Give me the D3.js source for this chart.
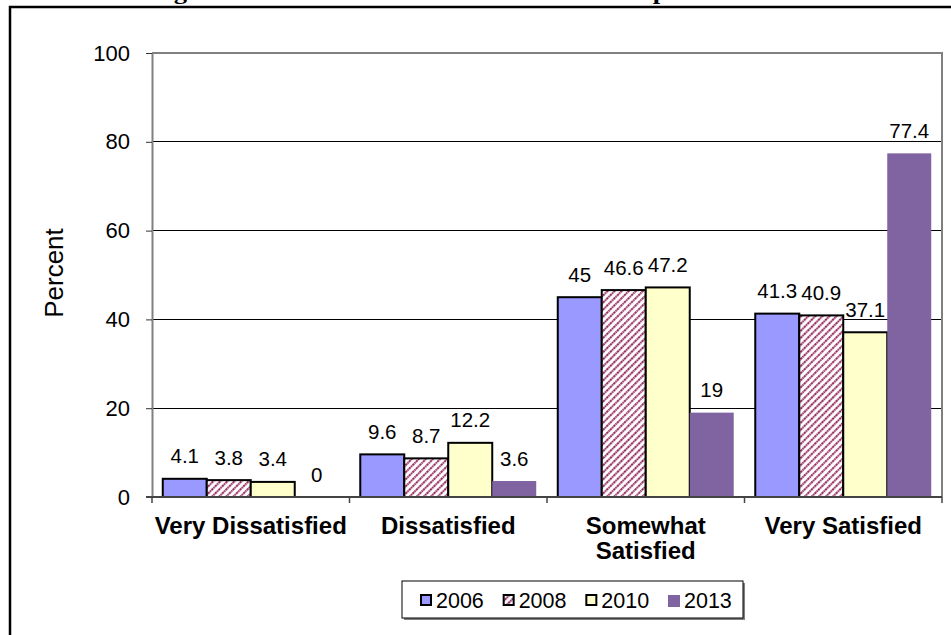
<!DOCTYPE html>
<html>
<head>
<meta charset="utf-8">
<script src="https://cdn.jsdelivr.net/npm/d3@7"></script>
<style>
  html, body { margin: 0; padding: 0; background: #fff; }
  svg { display: block; }
</style>
</head>
<body>
<svg id="chart" width="951" height="635"></svg>
<script>
const titleText = "Figure 3 Satisfaction with Yard Waste Pickup 2006-2013";
const categories = [["Very Dissatisfied"], ["Dissatisfied"], ["Somewhat", "Satisfied"], ["Very Satisfied"]];
const categoryKeys = ["Very Dissatisfied", "Dissatisfied", "Somewhat Satisfied", "Very Satisfied"];
const seriesNames = ["2006", "2008", "2010", "2013"];
const values2006 = [4.1, 9.6, 45, 41.3];
const values2008 = [3.8, 8.7, 46.6, 40.9];
const values2010 = [3.4, 12.2, 47.2, 37.1];
const values2013 = [0, 3.6, 19, 77.4];
const yTicks = [0, 20, 40, 60, 80, 100];
const yAxisTitle = "Percent";

const seriesValues = [values2006, values2008, values2010, values2013];
const fills = ["#9999FF", "url(#hatch)", "#FFFFCC", "#8064A2"];
const strokes = ["#000", "#000", "#000", "none"];
const FONT = "'Liberation Sans', Arial, Helvetica, sans-serif";

const svg = d3.select("#chart");
const defs = svg.append("defs");
const pat = defs.append("pattern").attr("id", "hatch").attr("patternUnits", "userSpaceOnUse")
  .attr("width", 5).attr("height", 5).attr("patternTransform", "rotate(45)");
pat.append("rect").attr("width", 5).attr("height", 5).attr("fill", "#fff");
pat.append("line").attr("x1", 1).attr("y1", 0).attr("x2", 1).attr("y2", 5)
  .attr("stroke", "#993366").attr("stroke-width", 2.2).attr("stroke-dasharray", "2,0.6");

// title (clipped at top edge)
svg.append("text").attr("x", 150).attr("y", -1)
  .attr("textLength", 640).attr("lengthAdjust", "spacingAndGlyphs")
  .style("font-family", "'Liberation Serif', 'Times New Roman', serif")
  .style("font-weight", "bold").style("font-size", "22px").text(titleText);

// outer frame
svg.append("rect").attr("x", 10).attr("y", 7).attr("width", 960).attr("height", 650)
  .attr("fill", "none").attr("stroke", "#000").attr("stroke-width", 2.5);

const plot = { left: 152, right: 942, top: 53, bottom: 497 };
const x0 = d3.scaleBand().domain(categoryKeys).range([plot.left, plot.right]).paddingInner(0.109).paddingOuter(0.0545);
const x1 = d3.scaleBand().domain(seriesNames).range([0, x0.bandwidth()]);
const y = d3.scaleLinear().domain([0, 100]).range([plot.bottom, plot.top]);

// gridlines
svg.append("g").selectAll("line").data(yTicks.filter(t => t > 0 && t < 100)).join("line")
  .attr("x1", plot.left).attr("x2", plot.right)
  .attr("y1", d => y(d)).attr("y2", d => y(d))
  .attr("stroke", "#000").attr("stroke-width", 1).attr("shape-rendering", "crispEdges");

// plot border top/right
svg.append("path")
  .attr("d", `M${plot.left},${y(100)}H${plot.right}V${y(0)}`)
  .attr("fill", "none").attr("stroke", "#808080").attr("stroke-width", 2);

// bars
const groups = svg.append("g").selectAll("g").data(categoryKeys).join("g")
  .attr("transform", d => `translate(${x0(d)},0)`);
groups.each(function(cat, ci) {
  const g = d3.select(this);
  seriesNames.forEach((s, si) => {
    const v = seriesValues[si][ci];
    g.append("rect")
      .attr("x", x1(s)).attr("width", x1.bandwidth())
      .attr("y", y(v)).attr("height", y(0) - y(v))
      .attr("fill", fills[si]).attr("stroke", strokes[si]).attr("stroke-width", 2);
    g.append("text")
      .attr("x", x1(s) + x1.bandwidth() / 2).attr("y", y(v) - 15.5)
      .attr("text-anchor", "middle")
      .style("font-family", FONT).style("font-size", "20.5px")
      .text(v);
  });
});

// y axis
const yAxis = d3.axisLeft(y).tickValues(yTicks).tickSize(6).tickPadding(16).tickSizeOuter(0);
const ya = svg.append("g").attr("transform", `translate(${plot.left},0)`).call(yAxis);
ya.select(".domain").attr("stroke", "#808080").attr("stroke-width", 2);
ya.selectAll(".tick line").attr("stroke", "#333").attr("stroke-width", 1);
ya.selectAll(".tick text").style("font-family", FONT).style("font-size", "22px").attr("fill", "#000");

// x axis baseline and ticks
const xa = svg.append("g");
xa.append("line").attr("x1", plot.left - 6).attr("x2", plot.right).attr("y1", y(0)).attr("y2", y(0))
  .attr("stroke", "#444").attr("stroke-width", 2);
const bounds = categoryKeys.map(c => x0(c) - x0.step() * x0.paddingInner() / 2).concat([plot.right]);
bounds[0] = plot.left;
xa.selectAll("line.t").data(bounds).join("line").attr("class", "t")
  .attr("x1", d => d).attr("x2", d => d).attr("y1", y(0)).attr("y2", y(0) + 6)
  .attr("stroke", "#444").attr("stroke-width", 1.5);

// category labels
const cl = svg.append("g").selectAll("text").data(categories).join("text")
  .attr("x", (d, i) => x0(categoryKeys[i]) + x0.bandwidth() / 2)
  .attr("y", 534)
  .attr("text-anchor", "middle")
  .style("font-family", FONT).style("font-size", "24px").style("font-weight", "bold");
cl.each(function(d) {
  const t = d3.select(this);
  d.forEach((line, li) => {
    t.append("tspan").attr("x", t.attr("x")).attr("dy", li === 0 ? 0 : 25).text(line);
  });
});

// y axis title
svg.append("text").attr("transform", `translate(63,273) rotate(-90)`)
  .attr("text-anchor", "middle")
  .style("font-family", FONT).style("font-size", "26px")
  .text(yAxisTitle);

// legend
const lg = svg.append("g");
lg.append("rect").attr("x", 404).attr("y", 583).attr("width", 341).attr("height", 37).attr("fill", "#808080");
lg.append("rect").attr("x", 402).attr("y", 581).attr("width", 341).attr("height", 37)
  .attr("fill", "#fff").attr("stroke", "#000").attr("stroke-width", 1);
const lx = d3.scalePoint().domain(seriesNames).range([420, 668]);
seriesNames.forEach((s, si) => {
  lg.append("rect").attr("x", lx(s) + (si === 3 ? 0 : 1)).attr("y", 595)
    .attr("width", si === 3 ? 12 : 10).attr("height", si === 3 ? 12 : 10)
    .attr("fill", fills[si])
    .attr("stroke", strokes[si]).attr("stroke-width", 2);
  lg.append("text").attr("x", lx(s) + 16).attr("y", 607.5)
    .style("font-family", FONT).style("font-size", "21.5px")
    .text(s);
});
</script>
</body>
</html>
